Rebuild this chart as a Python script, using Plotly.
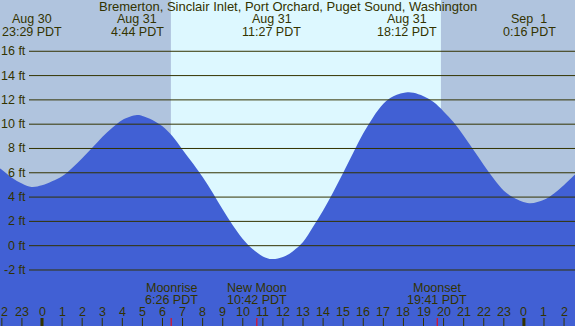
import plotly.graph_objects as go

# ---------------- data ----------------
title_text = "Bremerton, Sinclair Inlet, Port Orchard, Puget Sound, Washington"

# hours relative to Aug 31 00:00 PDT, tide height in feet
tide_hours = [-2.2, -2.0, -1.5, -1.0, -0.52, 0.0, 0.5, 1.0, 1.5, 2.0, 2.5, 3.0, 3.5, 4.0,
              4.73, 5.0, 5.5, 6.0, 6.5, 7.0, 7.5, 8.0, 8.5, 9.0, 9.5, 10.0, 10.5, 11.0,
              11.45, 12.0, 12.5, 13.0, 13.5, 14.0, 14.5, 15.0, 15.5, 16.0, 16.5, 17.0,
              17.5, 18.2, 18.5, 19.0, 19.5, 20.0, 20.5, 21.0, 21.5, 22.0, 22.5, 23.0,
              23.5, 24.27, 25.0, 25.5, 26.0, 26.7]
tide_feet = [6.45, 6.25, 5.6, 5.12, 4.83, 4.97, 5.3, 5.72, 6.4, 7.2, 8.05, 8.95, 9.7, 10.35,
             10.75, 10.68, 10.35, 9.82, 9.0, 7.9, 6.8, 5.65, 4.35, 2.97, 1.68, 0.55, -0.3, -0.88,
             -1.1, -0.93, -0.45, 0.3, 1.55, 2.9, 4.4, 6.0, 7.65, 9.25, 10.6, 11.68,
             12.3, 12.63, 12.58, 12.3, 11.82, 11.05, 10.15, 9.05, 7.86, 6.65, 5.5, 4.52,
             3.95, 3.5, 3.78, 4.3, 5.0, 6.1]

# high / low tide labels
extreme_hours = [-0.517, 4.733, 11.45, 18.2, 24.267]
extreme_dates = ["Aug 30", "Aug 31", "Aug 31", "Aug 31", "Sep  1"]
extreme_times = ["23:29 PDT", "4:44 PDT", "11:27 PDT", "18:12 PDT", "0:16 PDT"]

# moon events
moon_hours = [6.433, 10.7, 19.683]
moon_names = ["Moonrise", "New Moon", "Moonset"]
moon_times = ["6:26 PDT", "10:42 PDT", "19:41 PDT"]

# sun
sunrise_hour = 6.42
sunset_hour = 19.87

# axis ticks (the first label, "22", is cut by the left edge in the reference: only "2" shows)
hour_ticks = list(range(-2, 27))
hour_labels = ["2"] + [str(h % 24) for h in hour_ticks[1:]]
midnight_hours = [0, 24]
feet_ticks = [-2, 0, 2, 4, 6, 8, 10, 12, 14, 16]
feet_labels = [f"{v} ft" for v in feet_ticks]

# ---------------- styling ----------------
W, H = 575, 326
X_RANGE = [-2.092, 26.545]
Y_RANGE = [-6.61, 20.22]
NIGHT = "#B0C4DE"
DAY = "#DDF8FF"
WATER = "#4160D4"
INK = "#333300"
FONT = "Liberation Sans, Arial, sans-serif"
FS = 12.5


def py(pix):
    """pixel row from top -> paper fraction"""
    return 1 - pix / H


fig = go.Figure()

# baseline for fill
fig.add_trace(go.Scatter(x=[X_RANGE[0] - 1, X_RANGE[1] + 1], y=[Y_RANGE[0] - 2, Y_RANGE[0] - 2],
                         mode="lines", line=dict(width=0), hoverinfo="skip", showlegend=False))
fig.add_trace(go.Scatter(x=tide_hours, y=tide_feet, mode="lines",
                         line=dict(width=0, shape="spline", smoothing=1.0, color=WATER),
                         fill="tonexty", fillcolor=WATER, hoverinfo="skip", showlegend=False))

shapes = []
# day / night backgrounds
shapes.append(dict(type="rect", xref="x", yref="paper", x0=X_RANGE[0] - 1, x1=sunrise_hour,
                   y0=0, y1=1, fillcolor=NIGHT, line=dict(width=0), layer="below"))
shapes.append(dict(type="rect", xref="x", yref="paper", x0=sunrise_hour, x1=sunset_hour,
                   y0=0, y1=1, fillcolor=DAY, line=dict(width=0), layer="below"))
shapes.append(dict(type="rect", xref="x", yref="paper", x0=sunset_hour, x1=X_RANGE[1] + 1,
                   y0=0, y1=1, fillcolor=NIGHT, line=dict(width=0), layer="below"))

# horizontal grid lines
for v in feet_ticks:
    shapes.append(dict(type="line", xref="paper", yref="y", x0=29 / W, x1=1, y0=v, y1=v,
                       line=dict(color=INK, width=1), layer="above"))

# hour ticks
tick_top = 8 / H
for h in hour_ticks:
    w = 3 if h in midnight_hours else 1
    shapes.append(dict(type="line", xref="x", yref="paper", x0=h, x1=h, y0=0, y1=tick_top,
                       line=dict(color=INK, width=w), layer="above"))
for h in moon_hours:
    shapes.append(dict(type="line", xref="x", yref="paper", x0=h, x1=h, y0=0, y1=tick_top,
                       line=dict(color="#FF0000", width=1), layer="above"))

annotations = []


def ann(x, y, text, xref="x", yref="paper", xanchor="center", size=FS, xshift=0):
    annotations.append(dict(x=x, y=y, xref=xref, yref=yref, text=text, showarrow=False,
                            xanchor=xanchor, yanchor="middle", xshift=xshift,
                            font=dict(family=FONT, size=size, color=INK)))


ann(0.5, py(7), title_text, xref="paper", size=13)
for h, d, t in zip(extreme_hours, extreme_dates, extreme_times):
    ann(h, py(19.5), d)
    ann(h, py(32), t)
for h, n, t in zip(moon_hours, moon_names, moon_times):
    ann(h, py(287.5), n)
    ann(h, py(299.5), t)
for i, (h, lab) in enumerate(zip(hour_ticks, hour_labels)):
    ann(h, py(312), lab, xshift=(2.5 if i == 0 else 0))
for v, lab in zip(feet_ticks, feet_labels):
    ann(27.5 / W, v, lab, xref="paper", yref="y", xanchor="right")

fig.update_layout(
    width=W, height=H, margin=dict(l=0, r=0, t=0, b=0, pad=0),
    paper_bgcolor=NIGHT, plot_bgcolor=NIGHT,
    xaxis=dict(range=X_RANGE, visible=False, fixedrange=True),
    yaxis=dict(range=Y_RANGE, visible=False, fixedrange=True),
    shapes=shapes, annotations=annotations, showlegend=False,
)

fig.write_html("out.html", config={"displayModeBar": False},
               post_script="document.body.style.margin='0';document.body.style.overflow='hidden';")
